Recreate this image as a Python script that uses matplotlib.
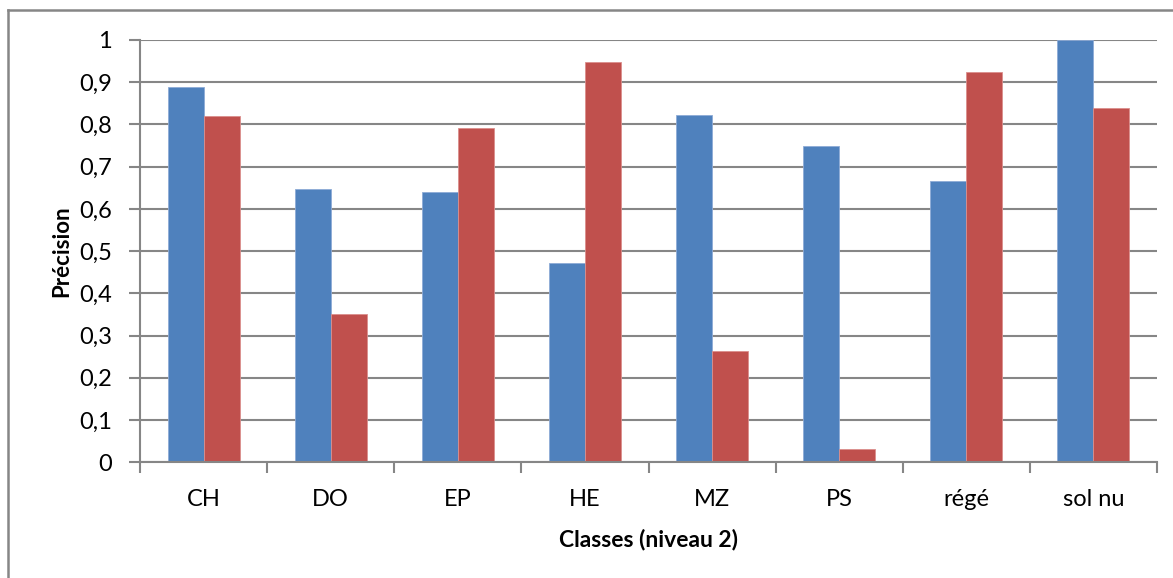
import numpy as np
import matplotlib
matplotlib.use("Agg")
import matplotlib.pyplot as plt
from matplotlib.lines import Line2D
from matplotlib.ticker import FuncFormatter, MultipleLocator

plt.rcParams['font.family'] = ['Lato', 'DejaVu Sans']

classes = ['CH', 'DO', 'EP', 'HE', 'MZ', 'PS', 'régé', 'sol nu']
serie_bleue = [0.889, 0.646, 0.641, 0.471, 0.823, 0.750, 0.666, 1.000]
serie_rouge = [0.821, 0.352, 0.791, 0.948, 0.264, 0.032, 0.924, 0.838]

BLEU = '#4F81BD'
ROUGE = '#C0504D'
GRIS = '#868686'

W, H = 1173, 578
fig = plt.figure(figsize=(W / 100, H / 100), dpi=100)
ax = fig.add_axes([140 / W, 1 - 462.3 / H, (1157 - 140) / W, (462.3 - 40) / H])

x = np.arange(len(classes)) + 0.5
bw = 0.283
ax.bar(x - bw / 2, serie_bleue, bw, color=BLEU, edgecolor='#8EABD6', linewidth=0.6, zorder=3)
ax.bar(x + bw / 2, serie_rouge, bw, color=ROUGE, edgecolor='#DB8F8D', linewidth=0.6, zorder=3)

ax.set_xlim(0, len(classes))
ax.set_ylim(0, 1)

# y axis: 0,1 steps with decimal comma
ax.yaxis.set_major_locator(MultipleLocator(0.1))
ax.yaxis.set_major_formatter(FuncFormatter(
    lambda v, _: '0' if abs(v) < 1e-9 else ('1' if abs(v - 1) < 1e-9 else f'{v:.1f}'.replace('.', ','))))
ax.grid(axis='y', color=GRIS, linewidth=1.5, zorder=0)

# x axis: ticks on category boundaries, labels centred
ax.set_xticks(np.arange(len(classes) + 1))
ax.set_xticklabels([])
ax.set_xticks(x, minor=True)
ax.set_xticklabels(classes, minor=True)
ax.tick_params(axis='x', which='major', length=8, width=1.5, color=GRIS, direction='out')
ax.tick_params(axis='x', which='minor', length=0, pad=19, labelsize=17)
ax.tick_params(axis='y', length=8, width=1.5, color=GRIS, pad=12, labelsize=17)

for side in ('top', 'right'):
    ax.spines[side].set_visible(False)
for side in ('left', 'bottom'):
    ax.spines[side].set_color(GRIS)
    ax.spines[side].set_linewidth(1.5)
    ax.spines[side].set_zorder(4)

ax.set_ylabel('Précision', fontweight='bold', fontsize=16, labelpad=5)
ax.set_xlabel('Classes (niveau 2)', fontweight='bold', fontsize=16.5, labelpad=14)

# chart frame (top and left edges)
fig.add_artist(Line2D([8 / W, 1], [1 - 10 / H, 1 - 10 / H], transform=fig.transFigure, color=GRIS, linewidth=1.8))
fig.add_artist(Line2D([8 / W, 8 / W], [0, 1 - 10 / H], transform=fig.transFigure, color=GRIS, linewidth=1.8))

fig.savefig('out.png', dpi=100)
